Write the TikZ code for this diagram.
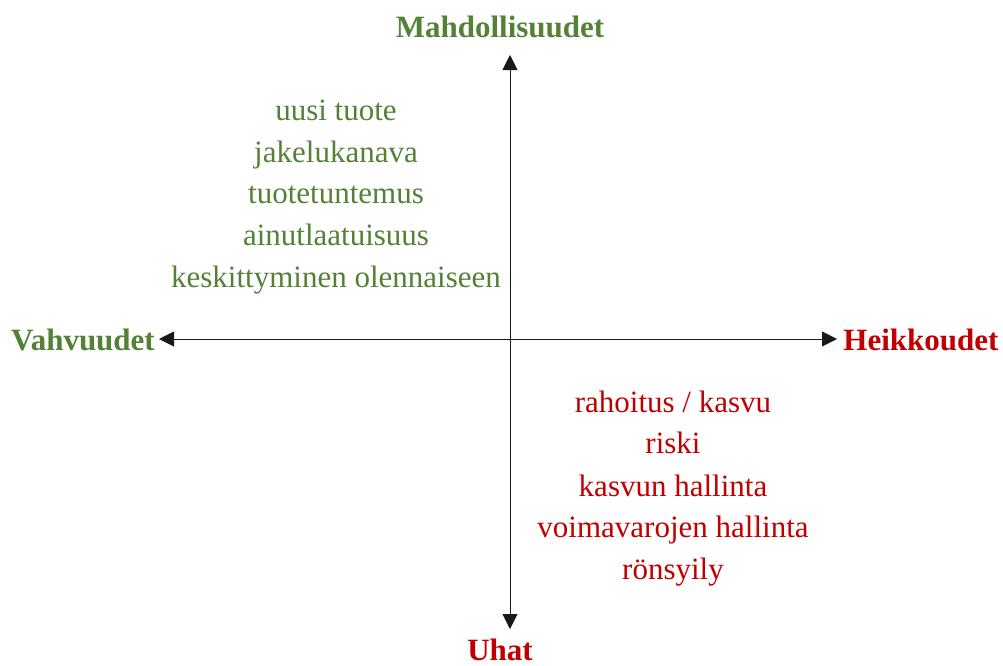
\documentclass[tikz,border=0pt]{standalone}
\usepackage{fontspec}
\setmainfont{Liberation Serif}
\usetikzlibrary{arrows.meta}
\definecolor{swotgreen}{HTML}{538135}
\definecolor{swotred}{HTML}{C00000}
\begin{document}
\begin{tikzpicture}[x=1pt,y=-1pt,
  axis/.style={line width=0.9pt,draw=black!90,
    {Triangle[length=15pt,width=15pt]}-{Triangle[length=15pt,width=15pt]}},
  heading/.style={font=\fontsize{31}{36}\selectfont\bfseries,anchor=base,inner sep=0pt},
  item/.style={font=\fontsize{31}{36}\selectfont,anchor=base,inner sep=0pt},
  good/.style={text=swotgreen},
  bad/.style={text=swotred}]
\useasboundingbox (0,0) rectangle (1003,665);

% axis end points
\coordinate (top) at (510,55);
\coordinate (bottom) at (510,629);
\coordinate (left) at (159,339);
\coordinate (right) at (837,339);

\draw[axis] (top) -- (bottom);
\draw[axis] (left) -- (right);

% axis headings
\node[heading,good] (opp) at (500,37) {Mahdollisuudet};
\node[heading,good] (str) at (83,350) {Vahvuudet};
\node[heading,bad] (weak) at (921,350) {Heikkoudet};
\node[heading,bad] (thr) at (500,660) {Uhat};

% opportunities
\node[item,good] (g1) at (336,120) {uusi tuote};
\node[item,good] (g2) at (336,162) {jakelukanava};
\node[item,good] (g3) at (336,203) {tuotetuntemus};
\node[item,good] (g4) at (336,245) {ainutlaatuisuus};
\node[item,good] (g5) at (336,287) {keskittyminen olennaiseen};

% threats
\node[item,bad] (r1) at (673,412) {rahoitus / kasvu};
\node[item,bad] (r2) at (673,453) {riski};
\node[item,bad] (r3) at (673,496) {kasvun hallinta};
\node[item,bad] (r4) at (673,537) {voimavarojen hallinta};
\node[item,bad] (r5) at (673,579) {rönsyily};
\end{tikzpicture}
\end{document}
